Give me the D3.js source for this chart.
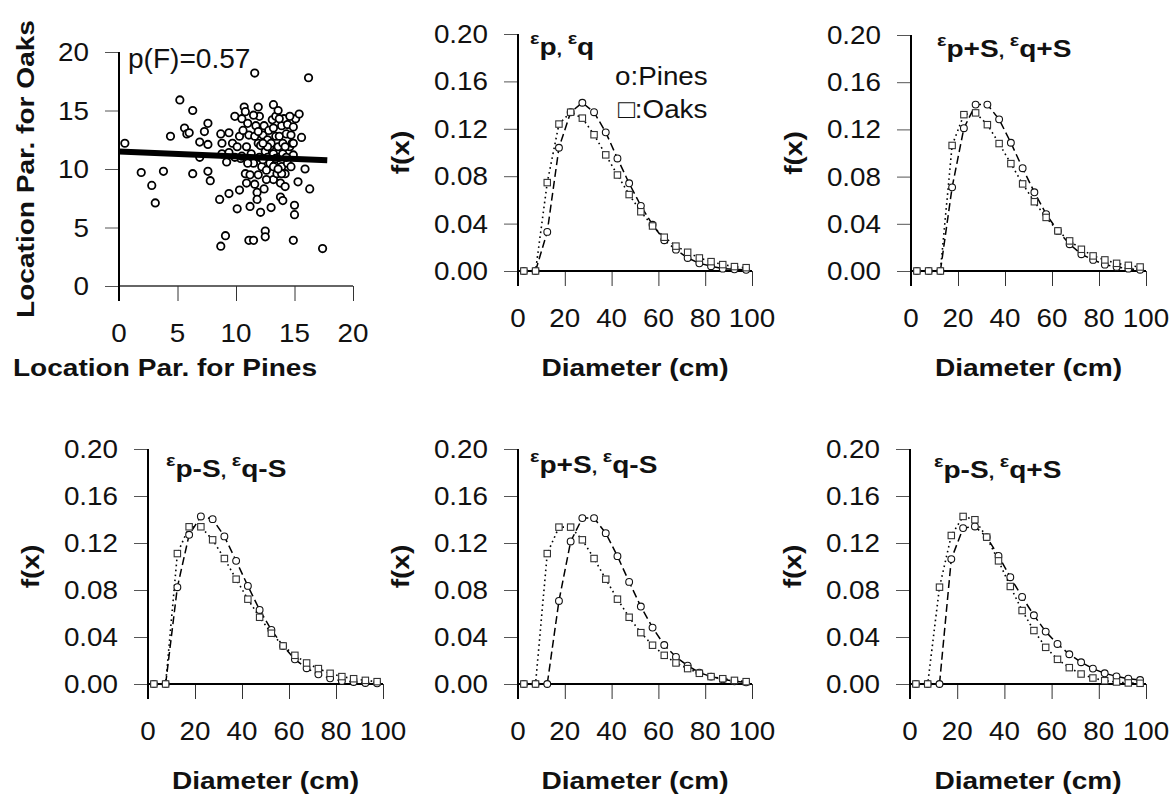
<!DOCTYPE html>
<html>
<head>
<meta charset="utf-8">
<script src="https://cdn.jsdelivr.net/npm/d3@7"></script>
<style>
  body { margin: 0; background: #fff; }
  text { font-family: 'Liberation Sans', Arial, sans-serif; fill: #111; }
</style>
</head>
<body>
<svg id="chart"></svg>
<script>
const width = 1171,
    height = 794;

// ---- data ----
// scatter: location parameters (pines on x, oaks on y)
const pinesLoc = [0.5, 1.9, 2.8, 3.1, 3.8, 4.4, 5.2, 5.6, 5.8, 6.0, 6.3, 6.3, 6.9, 6.9, 7.3, 7.6, 7.6, 7.6, 7.8, 8.6,
    8.7, 8.8, 8.8, 8.7, 9.1, 9.4, 9.4, 9.2, 9.4, 9.7, 9.9, 10.1, 10.3, 10.3, 10.4, 10.5, 10.5, 10.7, 10.8, 10.8,
    10.9, 11.0, 11.1, 11.1, 11.2, 11.2, 11.3, 11.5, 11.5, 11.6, 11.6, 11.7, 11.8, 11.8, 11.9, 11.9, 11.9, 12.0, 12.1, 12.1,
    12.2, 12.3, 12.4, 12.4, 12.5, 12.5, 12.5, 12.6, 12.7, 12.7, 12.8, 12.9, 12.9, 13.0, 13.1, 13.2, 13.2, 13.2, 13.2, 13.3,
    13.4, 13.4, 13.5, 13.6, 13.6, 13.7, 13.7, 13.8, 13.8, 13.9, 13.9, 14.0, 14.0, 14.0, 14.1, 14.2, 14.2, 14.3, 14.4, 14.4,
    14.6, 14.7, 14.7, 14.8, 14.9, 14.9, 15.0, 15.0, 14.9, 15.1, 15.3, 15.4, 15.6, 15.9, 16.2, 16.3, 17.4, 10.6, 11.5, 11.6,
    12.0, 12.3, 12.6, 13.0, 13.4, 13.7, 13.9, 14.2, 14.3, 14.6, 11.0, 9.9, 10.1, 10.9, 13.2, 13.6, 14.9, 12.7, 11.9, 12.3];
const oaksLoc = [12.2, 9.7, 8.6, 7.1, 9.8, 12.8, 15.9, 13.5, 13.0, 13.1, 15.0, 9.6, 11.0, 12.3, 13.2, 13.9, 12.1, 9.8, 9.0, 7.4,
    13.0, 11.3, 12.2, 3.4, 4.3, 7.9, 13.1, 10.6, 11.4, 12.2, 14.5, 6.6, 8.2, 12.8, 10.9, 14.3, 11.1, 15.3, 14.9, 9.6,
    11.9, 13.9, 12.9, 3.9, 6.8, 9.5, 11.3, 10.5, 3.9, 18.2, 8.7, 13.7, 8.0, 7.4, 15.3, 12.2, 9.5, 14.5, 12.0, 6.3,
    10.2, 12.9, 8.3, 13.7, 4.7, 4.2, 11.5, 9.9, 12.5, 11.0, 13.3, 10.5, 11.9, 6.7, 14.2, 15.5, 13.5, 9.1, 11.3, 10.3,
    12.8, 14.5, 9.6, 11.9, 15.0, 11.0, 12.8, 8.8, 7.6, 10.2, 13.7, 12.2, 7.3, 11.3, 14.3, 9.6, 8.5, 13.0, 10.5, 13.8,
    11.9, 10.2, 12.9, 12.2, 11.2, 13.6, 6.9, 6.1, 3.9, 14.3, 8.9, 14.7, 12.7, 10.0, 17.8, 8.3, 3.2, 13.3, 14.6, 12.8,
    11.0, 10.8, 9.1, 12.2, 10.9, 14.3, 9.6, 11.9, 11.0, 14.5, 10.5, 11.0, 11.9, 8.8, 10.2, 10.0, 12.2, 11.9, 13.2, 12.2];
const fitX = [0, 17.8];
const fitY = [11.5, 10.75];
const pValue = "p(F)=0.57";

// diameter-class midpoints (cm)
const diameters = [2.5, 7.5, 12.5, 17.5, 22.5, 27.5, 32.5, 37.5, 42.5, 47.5,
    52.5, 57.5, 62.5, 67.5, 72.5, 77.5, 82.5, 87.5, 92.5, 97.5];

// f(x) per panel, pines (circles) and oaks (squares)
const pines_pq = [0, 0, 0.033, 0.104, 0.134, 0.142, 0.134, 0.117, 0.095, 0.074,
    0.055, 0.039, 0.026, 0.018, 0.011, 0.0065, 0.004, 0.002, 0.0014, 0.001];
const oaks_pq = [0, 0, 0.0746, 0.124, 0.134, 0.129, 0.115, 0.098, 0.081, 0.0645,
    0.050, 0.038, 0.0285, 0.021, 0.0158, 0.011, 0.0079, 0.0054, 0.0037, 0.0028];

const pines_pSqS = [0, 0, 0, 0.0709, 0.121, 0.141, 0.141, 0.1285, 0.1087, 0.0871,
    0.0667, 0.0482, 0.034, 0.0227, 0.0142, 0.0094, 0.0054, 0.0034, 0.002, 0.0011];
const oaks_pSqS = [0, 0, 0, 0.1064, 0.1325, 0.134, 0.124, 0.108, 0.091, 0.0738,
    0.0587, 0.0454, 0.034, 0.0255, 0.0184, 0.0128, 0.0094, 0.0065, 0.0048, 0.0034];

const pines_pmSqmS = [0, 0, 0.0824, 0.127, 0.1426, 0.1403, 0.1256, 0.1048, 0.0835, 0.063,
    0.046, 0.0324, 0.021, 0.0134, 0.0082, 0.0048, 0.0026, 0.0017, 0.0009, 0.0006];
const oaks_pmSqmS = [0, 0, 0.111, 0.1338, 0.1338, 0.1227, 0.1068, 0.0892, 0.0722, 0.0568,
    0.0432, 0.0324, 0.0244, 0.0179, 0.0131, 0.0091, 0.0063, 0.0045, 0.0031, 0.002];

const pines_pSqmS = [0, 0, 0, 0.0707, 0.1213, 0.1412, 0.1412, 0.1284, 0.1088, 0.0869,
    0.0659, 0.048, 0.0332, 0.023, 0.0156, 0.0097, 0.0063, 0.004, 0.0023, 0.0014];
const oaks_pSqmS = [0, 0, 0.111, 0.1335, 0.1335, 0.1227, 0.1068, 0.0892, 0.0722, 0.0568,
    0.0437, 0.033, 0.0244, 0.0179, 0.0131, 0.0091, 0.0063, 0.0045, 0.0031, 0.002];

const pines_pmSqS = [0, 0, 0, 0.1063, 0.1327, 0.1341, 0.125, 0.109, 0.0909, 0.0741,
    0.0585, 0.0446, 0.0341, 0.0253, 0.0185, 0.0131, 0.0091, 0.0065, 0.0045, 0.0034];
const oaks_pmSqS = [0, 0, 0.0824, 0.1264, 0.1426, 0.1398, 0.125, 0.1048, 0.083, 0.0625,
    0.0455, 0.0312, 0.021, 0.0139, 0.0085, 0.0051, 0.0028, 0.0017, 0.0009, 0.0006];

const panelTitles = [["p", "q"], ["p+S", "q+S"], ["p-S", "q-S"], ["p+S", "q-S"], ["p-S", "q+S"]];
const panelPines = [pines_pq, pines_pSqS, pines_pmSqmS, pines_pSqmS, pines_pmSqS];
const panelOaks = [oaks_pq, oaks_pSqS, oaks_pmSqmS, oaks_pSqmS, oaks_pmSqS];

const distXTicks = [0, 20, 40, 60, 80, 100];
const distYTicks = [0, 0.04, 0.08, 0.12, 0.16, 0.20];
const scatterTicks = [0, 5, 10, 15, 20];
const legendLabels = ["o:Pines", "\u25A1:Oaks"];

// ---- layout (pixel boxes of each plot area) ----
const scatterBox = { left: 119, right: 353, top: 52, bottom: 286 };
const distBoxes = [
    { left: 518, right: 752, top: 34, bottom: 271, tx: 12, ty: 21 },
    { left: 911, right: 1146, top: 35, bottom: 271, tx: 26, ty: 22 },
    { left: 148, right: 383, top: 449, bottom: 684, tx: 18, ty: 28 },
    { left: 518, right: 752, top: 449, bottom: 684, tx: 12, ty: 24 },
    { left: 910, right: 1146, top: 449, bottom: 684, tx: 24, ty: 29 }
];

const svg = d3.select("#chart")
    .attr("width", width)
    .attr("height", height)
    .style("background-color", "#fff");

// text helper: the source font is wider than Arial, so stretch horizontally
function label(g, str, x, y, o) {
    o = o || {};
    let tr = `translate(${x},${y})`;
    if (o.rotate) tr += ` rotate(${o.rotate})`;
    tr += ` scale(${o.sx || 1.07},1)`;
    return g.append("text")
        .attr("transform", tr)
        .attr("text-anchor", o.anchor || "middle")
        .attr("font-size", o.size || 26)
        .attr("font-weight", o.bold ? "bold" : "normal")
        .text(str);
}

// ---- scatter panel ----
const sx = d3.scaleLinear().domain([0, 20]).range([scatterBox.left, scatterBox.right]);
const sy = d3.scaleLinear().domain([0, 20]).range([scatterBox.bottom, scatterBox.top]);
const sc = svg.append("g");

sc.append("g")
    .attr("transform", `translate(${scatterBox.left},0)`)
    .call(d3.axisLeft(sy).tickValues(scatterTicks).tickSize(14).tickSizeOuter(0).tickFormat(""))
    .call(g => g.select(".domain").remove())
    .selectAll("line").attr("stroke", "#555");
sc.append("g")
    .attr("transform", `translate(0,${scatterBox.bottom})`)
    .call(d3.axisBottom(sx).tickValues(scatterTicks).tickSize(15).tickSizeOuter(0).tickFormat(""))
    .call(g => g.select(".domain").remove())
    .selectAll("line").attr("stroke", "#333");
sc.append("line")
    .attr("x1", sx(0)).attr("x2", sx(20))
    .attr("y1", sy(0)).attr("y2", sy(0))
    .attr("stroke", "#333").attr("stroke-width", 1.6);
sc.append("line")
    .attr("x1", sx(0)).attr("x2", sx(0))
    .attr("y1", sy(20)).attr("y2", sy(0) + 15)
    .attr("stroke", "#000").attr("stroke-width", 2);

scatterTicks.forEach(t => {
    label(sc, t, sx(0) - 30, sy(t) + 9, { anchor: "end" });
    label(sc, t, sx(t), sy(0) + 56);
});

sc.selectAll("circle.pt")
    .data(pinesLoc.map((d, i) => [d, oaksLoc[i]]))
    .enter()
    .append("circle")
    .attr("class", "pt")
    .attr("cx", d => sx(d[0]))
    .attr("cy", d => sy(d[1]))
    .attr("r", 3.7)
    .attr("fill", "#fff")
    .attr("stroke", "#000")
    .attr("stroke-width", 1.8);

sc.append("line")
    .attr("x1", sx(fitX[0])).attr("x2", sx(fitX[1]))
    .attr("y1", sy(fitY[0])).attr("y2", sy(fitY[1]))
    .attr("stroke", "#000").attr("stroke-width", 6);

label(sc, pValue, sx(0) + 9, sy(20) + 16, { anchor: "start", size: 27, sx: 1.04 });
label(sc, "Location Par. for Pines", 165, 376, { bold: true, size: 24, sx: 1.17 });
label(sc, "Location Par. for Oaks", 34, (scatterBox.top + scatterBox.bottom) / 2,
    { bold: true, size: 24, sx: 1.17, rotate: -90 });

// ---- distribution panels ----
distBoxes.forEach((b, k) => {
    const x = d3.scaleLinear().domain([0, 100]).range([b.left, b.right]);
    const y = d3.scaleLinear().domain([0, 0.2]).range([b.bottom, b.top]);
    const g = svg.append("g");

    g.append("g")
        .attr("transform", `translate(${b.left},0)`)
        .call(d3.axisLeft(y).tickValues(distYTicks).tickSize(14).tickSizeOuter(0).tickFormat(""))
        .call(a => a.select(".domain").remove())
        .selectAll("line").attr("stroke", "#555");
    g.append("g")
        .attr("transform", `translate(0,${b.bottom})`)
        .call(d3.axisBottom(x).tickValues(distXTicks).tickSize(15).tickSizeOuter(0).tickFormat(""))
        .call(a => a.select(".domain").remove())
        .selectAll("line").attr("stroke", "#333");
    g.append("line")
        .attr("x1", x(0)).attr("x2", x(0))
        .attr("y1", y(0.2)).attr("y2", y(0) + 15)
        .attr("stroke", "#000").attr("stroke-width", 2);

    distYTicks.forEach(t => label(g, t.toFixed(2), x(0) - 30, y(t) + 9, { anchor: "end" }));
    distXTicks.forEach(t => label(g, t, x(t), y(0) + 56));

    const pines = diameters.map((d, i) => [d, panelPines[k][i]]);
    const oaks = diameters.map((d, i) => [d, panelOaks[k][i]]);
    const line = d3.line().x(d => x(d[0])).y(d => y(d[1]));

    g.append("path").datum(pines)
        .attr("d", line).attr("fill", "none")
        .attr("stroke", "#000").attr("stroke-width", 1.5)
        .attr("stroke-dasharray", "8,4");
    g.append("path").datum(oaks)
        .attr("d", line).attr("fill", "none")
        .attr("stroke", "#000").attr("stroke-width", 1.6)
        .attr("stroke-dasharray", "1.6,3.4");

    // thick baseline at f(x)=0
    g.append("line")
        .attr("x1", x(0)).attr("x2", x(100))
        .attr("y1", y(0)).attr("y2", y(0))
        .attr("stroke", "#000").attr("stroke-width", 2.2);

    g.selectAll("circle.pine").data(pines).enter()
        .append("circle").attr("class", "pine")
        .attr("cx", d => x(d[0])).attr("cy", d => y(d[1]))
        .attr("r", 3.4)
        .attr("fill", "#fff").attr("stroke", "#111").attr("stroke-width", 1.1);
    g.selectAll("rect.oak").data(oaks).enter()
        .append("rect").attr("class", "oak")
        .attr("x", d => x(d[0]) - 3.2).attr("y", d => y(d[1]) - 3.2)
        .attr("width", 6.4).attr("height", 6.4)
        .attr("fill", "#fff").attr("stroke", "#333").attr("stroke-width", 1.1);

    // panel title: epsilon as small raised letter
    const tt = label(g, "", b.left + b.tx, b.top + b.ty, { anchor: "start", bold: true, size: 24, sx: 1.17 });
    tt.append("tspan").attr("font-size", 17).attr("dy", -11).text("\u03B5");
    tt.append("tspan").attr("dy", 11).text(panelTitles[k][0]);
    tt.append("tspan").attr("font-size", 17).text(", ");
    tt.append("tspan").attr("font-size", 17).attr("dy", -11).text("\u03B5");
    tt.append("tspan").attr("dy", 11).text(panelTitles[k][1]);

    label(g, "f(x)", b.left - 109, (b.top + b.bottom) / 2, { bold: true, size: 24, sx: 1.17, rotate: -90 });
    label(g, "Diameter (cm)", (b.left + b.right) / 2, b.bottom + 105, { bold: true, size: 24, sx: 1.17 });

    if (k === 0) {
        label(g, legendLabels[0], 615, 85, { anchor: "start" });
        label(g, legendLabels[1], 618, 118, { anchor: "start" });
    }
});
</script>
</body>
</html>
